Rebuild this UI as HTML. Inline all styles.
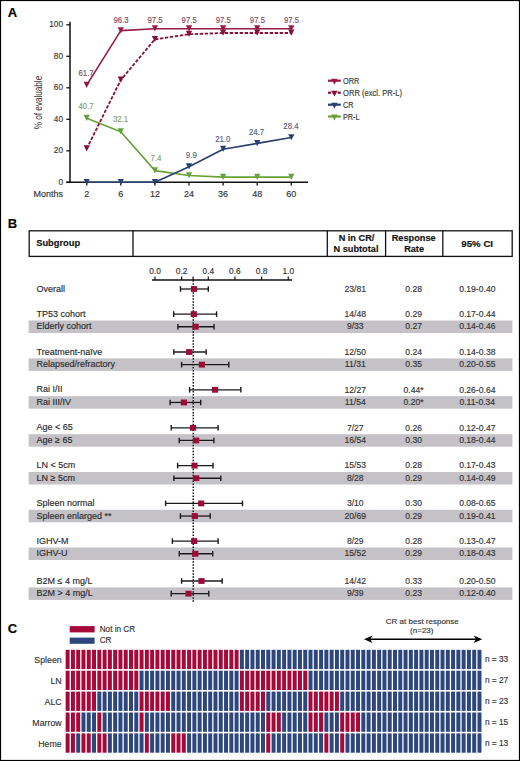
<!DOCTYPE html>
<html><head><meta charset="utf-8"><style>
html,body{margin:0;padding:0;background:#fff;}
body{width:520px;height:761px;overflow:hidden;font-family:"Liberation Sans", sans-serif;}
svg{display:block;}
</style></head><body>
<svg width="520" height="761" viewBox="0 0 520 761" font-family='"Liberation Sans", sans-serif'>
<rect x="0" y="0" width="520" height="761" fill="#fff"/>
<text x="7.8" y="16.6" font-size="13" text-anchor="start" font-weight="bold" fill="#000" stroke="#000" stroke-width="0.15" >A</text>
<line x1="70" y1="21.7" x2="70" y2="182.3" stroke="#111" stroke-width="1.5"/>
<line x1="66.3" y1="182.3" x2="308" y2="182.3" stroke="#111" stroke-width="1.5"/>
<line x1="66.3" y1="182.30" x2="70" y2="182.30" stroke="#111" stroke-width="1.3"/>
<text x="63" y="184.70000000000002" font-size="8.3" text-anchor="end" font-weight="normal" fill="#3a3a3a" stroke="#3a3a3a" stroke-width="0.15" >0</text>
<line x1="66.3" y1="150.80" x2="70" y2="150.80" stroke="#111" stroke-width="1.3"/>
<text x="63" y="153.20000000000002" font-size="8.3" text-anchor="end" font-weight="normal" fill="#3a3a3a" stroke="#3a3a3a" stroke-width="0.15" >20</text>
<line x1="66.3" y1="119.30" x2="70" y2="119.30" stroke="#111" stroke-width="1.3"/>
<text x="63" y="121.70000000000002" font-size="8.3" text-anchor="end" font-weight="normal" fill="#3a3a3a" stroke="#3a3a3a" stroke-width="0.15" >40</text>
<line x1="66.3" y1="87.80" x2="70" y2="87.80" stroke="#111" stroke-width="1.3"/>
<text x="63" y="90.20000000000002" font-size="8.3" text-anchor="end" font-weight="normal" fill="#3a3a3a" stroke="#3a3a3a" stroke-width="0.15" >60</text>
<line x1="66.3" y1="56.30" x2="70" y2="56.30" stroke="#111" stroke-width="1.3"/>
<text x="63" y="58.70000000000001" font-size="8.3" text-anchor="end" font-weight="normal" fill="#3a3a3a" stroke="#3a3a3a" stroke-width="0.15" >80</text>
<line x1="66.3" y1="24.80" x2="70" y2="24.80" stroke="#111" stroke-width="1.3"/>
<text x="63" y="27.20000000000001" font-size="8.3" text-anchor="end" font-weight="normal" fill="#3a3a3a" stroke="#3a3a3a" stroke-width="0.15" >100</text>
<line x1="86.7" y1="182.3" x2="86.7" y2="185.60000000000002" stroke="#111" stroke-width="1.3"/>
<line x1="120.8" y1="182.3" x2="120.8" y2="185.60000000000002" stroke="#111" stroke-width="1.3"/>
<line x1="154.9" y1="182.3" x2="154.9" y2="185.60000000000002" stroke="#111" stroke-width="1.3"/>
<line x1="189.0" y1="182.3" x2="189.0" y2="185.60000000000002" stroke="#111" stroke-width="1.3"/>
<line x1="223.1" y1="182.3" x2="223.1" y2="185.60000000000002" stroke="#111" stroke-width="1.3"/>
<line x1="257.2" y1="182.3" x2="257.2" y2="185.60000000000002" stroke="#111" stroke-width="1.3"/>
<line x1="291.3" y1="182.3" x2="291.3" y2="185.60000000000002" stroke="#111" stroke-width="1.3"/>
<text x="86.7" y="196.5" font-size="9" text-anchor="middle" font-weight="normal" fill="#333" stroke="#333" stroke-width="0.15" >2</text>
<text x="120.8" y="196.5" font-size="9" text-anchor="middle" font-weight="normal" fill="#333" stroke="#333" stroke-width="0.15" >6</text>
<text x="154.9" y="196.5" font-size="9" text-anchor="middle" font-weight="normal" fill="#333" stroke="#333" stroke-width="0.15" >12</text>
<text x="189.0" y="196.5" font-size="9" text-anchor="middle" font-weight="normal" fill="#333" stroke="#333" stroke-width="0.15" >24</text>
<text x="223.1" y="196.5" font-size="9" text-anchor="middle" font-weight="normal" fill="#333" stroke="#333" stroke-width="0.15" >36</text>
<text x="257.2" y="196.5" font-size="9" text-anchor="middle" font-weight="normal" fill="#333" stroke="#333" stroke-width="0.15" >48</text>
<text x="291.3" y="196.5" font-size="9" text-anchor="middle" font-weight="normal" fill="#333" stroke="#333" stroke-width="0.15" >60</text>
<text x="63.1" y="196.5" font-size="9" text-anchor="end" font-weight="normal" fill="#333" stroke="#333" stroke-width="0.15" >Months</text>
<text transform="translate(42.4,102.5) rotate(-90) scale(0.74,1)" x="0" y="0" font-size="11" text-anchor="middle" fill="#333">% of evaluable</text>
<polyline points="86.70,118.20 120.80,131.74 154.90,170.65 189.00,175.53 223.10,177.10 257.20,177.10 291.30,177.10" fill="none" stroke="#68a03c" stroke-width="1.6" stroke-linejoin="round"/>
<polyline points="86.70,182.30 120.80,182.30 154.90,182.30 189.00,166.71 223.10,149.23 257.20,143.40 291.30,137.57" fill="none" stroke="#283f70" stroke-width="1.6" stroke-linejoin="round"/>
<polyline points="86.70,148.75 120.80,79.93 154.90,39.29 189.00,34.25 223.10,32.99 257.20,32.99 291.30,32.99" fill="none" stroke="#841236" stroke-width="1.8" stroke-dasharray="3.4,1.6" stroke-linejoin="round"/>
<polyline points="86.70,85.12 120.80,30.63 154.90,28.74 189.00,28.74 223.10,28.74 257.20,28.74 291.30,28.74" fill="none" stroke="#981b42" stroke-width="1.6" stroke-linejoin="round"/>
<polygon points="83.60,114.80 89.80,114.80 86.70,121.00" fill="#68a03c"/>
<polygon points="117.70,128.34 123.90,128.34 120.80,134.54" fill="#68a03c"/>
<polygon points="151.80,167.25 158.00,167.25 154.90,173.45" fill="#68a03c"/>
<polygon points="185.90,172.13 192.10,172.13 189.00,178.33" fill="#68a03c"/>
<polygon points="220.00,173.70 226.20,173.70 223.10,179.90" fill="#68a03c"/>
<polygon points="254.10,173.70 260.30,173.70 257.20,179.90" fill="#68a03c"/>
<polygon points="288.20,173.70 294.40,173.70 291.30,179.90" fill="#68a03c"/>
<polygon points="83.60,178.90 89.80,178.90 86.70,185.10" fill="#283f70"/>
<polygon points="117.70,178.90 123.90,178.90 120.80,185.10" fill="#283f70"/>
<polygon points="151.80,178.90 158.00,178.90 154.90,185.10" fill="#283f70"/>
<polygon points="185.90,163.31 192.10,163.31 189.00,169.51" fill="#283f70"/>
<polygon points="220.00,145.83 226.20,145.83 223.10,152.03" fill="#283f70"/>
<polygon points="254.10,140.00 260.30,140.00 257.20,146.20" fill="#283f70"/>
<polygon points="288.20,134.17 294.40,134.17 291.30,140.37" fill="#283f70"/>
<polygon points="83.60,145.35 89.80,145.35 86.70,151.55" fill="#841236"/>
<polygon points="117.70,76.53 123.90,76.53 120.80,82.73" fill="#841236"/>
<polygon points="151.80,35.89 158.00,35.89 154.90,42.09" fill="#841236"/>
<polygon points="185.90,30.85 192.10,30.85 189.00,37.05" fill="#841236"/>
<polygon points="220.00,29.59 226.20,29.59 223.10,35.79" fill="#841236"/>
<polygon points="254.10,29.59 260.30,29.59 257.20,35.79" fill="#841236"/>
<polygon points="288.20,29.59 294.40,29.59 291.30,35.79" fill="#841236"/>
<polygon points="83.60,81.72 89.80,81.72 86.70,87.92" fill="#981b42"/>
<polygon points="117.70,27.23 123.90,27.23 120.80,33.43" fill="#981b42"/>
<polygon points="151.80,25.34 158.00,25.34 154.90,31.54" fill="#981b42"/>
<polygon points="185.90,25.34 192.10,25.34 189.00,31.54" fill="#981b42"/>
<polygon points="220.00,25.34 226.20,25.34 223.10,31.54" fill="#981b42"/>
<polygon points="254.10,25.34 260.30,25.34 257.20,31.54" fill="#981b42"/>
<polygon points="288.20,25.34 294.40,25.34 291.30,31.54" fill="#981b42"/>
<text x="86.1" y="75.9" font-size="9.2" text-anchor="middle" font-weight="normal" fill="#7c4a5e" stroke="#7c4a5e" stroke-width="0.15" textLength="15.2" lengthAdjust="spacingAndGlyphs">61.7</text>
<text x="121.0" y="22.6" font-size="9.2" text-anchor="middle" font-weight="normal" fill="#7c4a5e" stroke="#7c4a5e" stroke-width="0.15" textLength="15.2" lengthAdjust="spacingAndGlyphs">96.3</text>
<text x="155.1" y="22.6" font-size="9.2" text-anchor="middle" font-weight="normal" fill="#7c4a5e" stroke="#7c4a5e" stroke-width="0.15" textLength="15.2" lengthAdjust="spacingAndGlyphs">97.5</text>
<text x="189.2" y="22.6" font-size="9.2" text-anchor="middle" font-weight="normal" fill="#7c4a5e" stroke="#7c4a5e" stroke-width="0.15" textLength="15.2" lengthAdjust="spacingAndGlyphs">97.5</text>
<text x="223.29999999999998" y="22.6" font-size="9.2" text-anchor="middle" font-weight="normal" fill="#7c4a5e" stroke="#7c4a5e" stroke-width="0.15" textLength="15.2" lengthAdjust="spacingAndGlyphs">97.5</text>
<text x="257.4" y="22.6" font-size="9.2" text-anchor="middle" font-weight="normal" fill="#7c4a5e" stroke="#7c4a5e" stroke-width="0.15" textLength="15.2" lengthAdjust="spacingAndGlyphs">97.5</text>
<text x="291.5" y="22.6" font-size="9.2" text-anchor="middle" font-weight="normal" fill="#7c4a5e" stroke="#7c4a5e" stroke-width="0.15" textLength="15.2" lengthAdjust="spacingAndGlyphs">97.5</text>
<text x="86.1" y="109.4" font-size="9.2" text-anchor="middle" font-weight="normal" fill="#849d70" stroke="#849d70" stroke-width="0.15" textLength="15.2" lengthAdjust="spacingAndGlyphs">40.7</text>
<text x="120.5" y="122.3" font-size="9.2" text-anchor="middle" font-weight="normal" fill="#849d70" stroke="#849d70" stroke-width="0.15" textLength="15.2" lengthAdjust="spacingAndGlyphs">32.1</text>
<text x="156.0" y="161.4" font-size="9.2" text-anchor="middle" font-weight="normal" fill="#849d70" stroke="#849d70" stroke-width="0.15" textLength="11.0" lengthAdjust="spacingAndGlyphs">7.4</text>
<text x="191.3" y="157.7" font-size="9.2" text-anchor="middle" font-weight="normal" fill="#555f7a" stroke="#555f7a" stroke-width="0.15" textLength="11.0" lengthAdjust="spacingAndGlyphs">9.9</text>
<text x="222.8" y="142.1" font-size="9.2" text-anchor="middle" font-weight="normal" fill="#555f7a" stroke="#555f7a" stroke-width="0.15" textLength="15.2" lengthAdjust="spacingAndGlyphs">21.0</text>
<text x="256.6" y="135.0" font-size="9.2" text-anchor="middle" font-weight="normal" fill="#555f7a" stroke="#555f7a" stroke-width="0.15" textLength="15.2" lengthAdjust="spacingAndGlyphs">24.7</text>
<text x="290.9" y="128.8" font-size="9.2" text-anchor="middle" font-weight="normal" fill="#555f7a" stroke="#555f7a" stroke-width="0.15" textLength="15.2" lengthAdjust="spacingAndGlyphs">28.4</text>
<line x1="328" y1="80.7" x2="340.8" y2="80.7" stroke="#981b42" stroke-width="2.2"/>
<polygon points="331.20,78.80 337.60,78.80 334.40,84.60" fill="#981b42"/>
<text x="343.0" y="83.9" font-size="8.3" text-anchor="start" font-weight="normal" fill="#383838" stroke="#383838" stroke-width="0.15" textLength="16.3" lengthAdjust="spacingAndGlyphs">ORR</text>
<line x1="328" y1="92.7" x2="331.2" y2="92.7" stroke="#841236" stroke-width="2.2"/>
<line x1="337.6" y1="92.7" x2="340.8" y2="92.7" stroke="#841236" stroke-width="2.2"/>
<polygon points="331.20,90.80 337.60,90.80 334.40,96.60" fill="#841236"/>
<text x="343.0" y="95.9" font-size="8.3" text-anchor="start" font-weight="normal" fill="#383838" stroke="#383838" stroke-width="0.15" textLength="59.0" lengthAdjust="spacingAndGlyphs">ORR (excl. PR-L)</text>
<line x1="328" y1="104.7" x2="340.8" y2="104.7" stroke="#283f70" stroke-width="2.2"/>
<polygon points="331.20,102.80 337.60,102.80 334.40,108.60" fill="#283f70"/>
<text x="343.0" y="107.9" font-size="8.3" text-anchor="start" font-weight="normal" fill="#383838" stroke="#383838" stroke-width="0.15" textLength="10.4" lengthAdjust="spacingAndGlyphs">CR</text>
<line x1="328" y1="116.5" x2="340.8" y2="116.5" stroke="#68a03c" stroke-width="2.2"/>
<polygon points="331.20,114.60 337.60,114.60 334.40,120.40" fill="#68a03c"/>
<text x="343.0" y="119.7" font-size="8.3" text-anchor="start" font-weight="normal" fill="#383838" stroke="#383838" stroke-width="0.15" textLength="16.6" lengthAdjust="spacingAndGlyphs">PR-L</text>
<text x="7.8" y="227.6" font-size="13" text-anchor="start" font-weight="bold" fill="#000" stroke="#000" stroke-width="0.15" >B</text>
<rect x="28.6" y="320.50" width="483.8" height="12.5" fill="#c4c1c7"/>
<rect x="28.6" y="358.40" width="483.8" height="12.5" fill="#c4c1c7"/>
<rect x="28.6" y="396.20" width="483.8" height="12.5" fill="#c4c1c7"/>
<rect x="28.6" y="434.20" width="483.8" height="12.5" fill="#c4c1c7"/>
<rect x="28.6" y="472.00" width="483.8" height="12.5" fill="#c4c1c7"/>
<rect x="28.6" y="509.80" width="483.8" height="12.5" fill="#c4c1c7"/>
<rect x="28.6" y="547.50" width="483.8" height="12.5" fill="#c4c1c7"/>
<rect x="28.6" y="587.40" width="483.8" height="12.5" fill="#c4c1c7"/>
<rect x="29.2" y="230.8" width="483" height="25.6" fill="none" stroke="#111" stroke-width="1.3"/>
<line x1="133.0" y1="230.8" x2="133.0" y2="256.4" stroke="#111" stroke-width="1.3"/>
<line x1="327.3" y1="230.8" x2="327.3" y2="256.4" stroke="#111" stroke-width="1.3"/>
<line x1="385.6" y1="230.8" x2="385.6" y2="256.4" stroke="#111" stroke-width="1.3"/>
<line x1="442.8" y1="230.8" x2="442.8" y2="256.4" stroke="#111" stroke-width="1.3"/>
<text x="36.2" y="246.2" font-size="9.3" text-anchor="start" font-weight="bold" fill="#111" stroke="#111" stroke-width="0.15" >Subgroup</text>
<text x="356.5" y="241.2" font-size="9.2" text-anchor="middle" font-weight="bold" fill="#111" stroke="#111" stroke-width="0.15" >N in CR/</text>
<text x="356.0" y="251.9" font-size="9.2" text-anchor="middle" font-weight="bold" fill="#111" stroke="#111" stroke-width="0.15" >N subtotal</text>
<text x="413.7" y="240.9" font-size="9.2" text-anchor="middle" font-weight="bold" fill="#111" stroke="#111" stroke-width="0.15" >Response</text>
<text x="414.1" y="251.9" font-size="9.2" text-anchor="middle" font-weight="bold" fill="#111" stroke="#111" stroke-width="0.15" >Rate</text>
<text x="477.2" y="246.9" font-size="9.7" text-anchor="middle" font-weight="bold" fill="#111" stroke="#111" stroke-width="0.15" >95% CI</text>
<line x1="152" y1="280" x2="292" y2="280" stroke="#111" stroke-width="1.4"/>
<line x1="155.00" y1="276.6" x2="155.00" y2="280" stroke="#111" stroke-width="1.2"/>
<text x="155.0" y="274.0" font-size="8.4" text-anchor="middle" font-weight="normal" fill="#333" stroke="#333" stroke-width="0.15" >0.0</text>
<line x1="181.65" y1="276.6" x2="181.65" y2="280" stroke="#111" stroke-width="1.2"/>
<text x="181.65" y="274.0" font-size="8.4" text-anchor="middle" font-weight="normal" fill="#333" stroke="#333" stroke-width="0.15" >0.2</text>
<line x1="208.30" y1="276.6" x2="208.30" y2="280" stroke="#111" stroke-width="1.2"/>
<text x="208.3" y="274.0" font-size="8.4" text-anchor="middle" font-weight="normal" fill="#333" stroke="#333" stroke-width="0.15" >0.4</text>
<line x1="234.95" y1="276.6" x2="234.95" y2="280" stroke="#111" stroke-width="1.2"/>
<text x="234.95" y="274.0" font-size="8.4" text-anchor="middle" font-weight="normal" fill="#333" stroke="#333" stroke-width="0.15" >0.6</text>
<line x1="261.60" y1="276.6" x2="261.60" y2="280" stroke="#111" stroke-width="1.2"/>
<text x="261.6" y="274.0" font-size="8.4" text-anchor="middle" font-weight="normal" fill="#333" stroke="#333" stroke-width="0.15" >0.8</text>
<line x1="288.25" y1="276.6" x2="288.25" y2="280" stroke="#111" stroke-width="1.2"/>
<text x="288.25" y="274.0" font-size="8.4" text-anchor="middle" font-weight="normal" fill="#333" stroke="#333" stroke-width="0.15" >1.0</text>
<line x1="193.1" y1="276.6" x2="193.1" y2="280" stroke="#111" stroke-width="1.2"/>
<line x1="193.25" y1="280.36" x2="193.25" y2="602" stroke="#000" stroke-width="1.4" stroke-dasharray="1.5,1.489"/>
<line x1="180.5" y1="289.00" x2="208.3" y2="289.00" stroke="#1a1a1a" stroke-width="1.3"/>
<line x1="180.5" y1="286.20" x2="180.5" y2="291.80" stroke="#1a1a1a" stroke-width="1.4"/>
<line x1="208.3" y1="286.20" x2="208.3" y2="291.80" stroke="#1a1a1a" stroke-width="1.4"/>
<rect x="190.90" y="286.10" width="6.2" height="5.8" fill="#9a0b35"/>
<text x="36.5" y="291.6" font-size="9" text-anchor="start" font-weight="normal" fill="#2a2a2a" stroke="#2a2a2a" stroke-width="0.15" >Overall</text>
<text x="355.3" y="291.7" font-size="8.6" text-anchor="middle" font-weight="normal" fill="#333" stroke="#333" stroke-width="0.15" >23/81</text>
<text x="413.6" y="291.7" font-size="8.6" text-anchor="middle" font-weight="normal" fill="#333" stroke="#333" stroke-width="0.15" >0.28</text>
<text x="477.3" y="291.7" font-size="8.6" text-anchor="middle" font-weight="normal" fill="#333" stroke="#333" stroke-width="0.15" >0.19-0.40</text>
<line x1="173.7" y1="314.10" x2="216.6" y2="314.10" stroke="#1a1a1a" stroke-width="1.3"/>
<line x1="173.7" y1="311.30" x2="173.7" y2="316.90" stroke="#1a1a1a" stroke-width="1.4"/>
<line x1="216.6" y1="311.30" x2="216.6" y2="316.90" stroke="#1a1a1a" stroke-width="1.4"/>
<rect x="190.70" y="311.20" width="6.2" height="5.8" fill="#9a0b35"/>
<text x="36.5" y="316.70000000000005" font-size="9" text-anchor="start" font-weight="normal" fill="#2a2a2a" stroke="#2a2a2a" stroke-width="0.15" >TP53 cohort</text>
<text x="355.3" y="316.8" font-size="8.6" text-anchor="middle" font-weight="normal" fill="#333" stroke="#333" stroke-width="0.15" >14/48</text>
<text x="413.6" y="316.8" font-size="8.6" text-anchor="middle" font-weight="normal" fill="#333" stroke="#333" stroke-width="0.15" >0.29</text>
<text x="477.3" y="316.8" font-size="8.6" text-anchor="middle" font-weight="normal" fill="#333" stroke="#333" stroke-width="0.15" >0.17-0.44</text>
<line x1="177.9" y1="326.75" x2="214.0" y2="326.75" stroke="#1a1a1a" stroke-width="1.3"/>
<line x1="177.9" y1="323.95" x2="177.9" y2="329.55" stroke="#1a1a1a" stroke-width="1.4"/>
<line x1="214.0" y1="323.95" x2="214.0" y2="329.55" stroke="#1a1a1a" stroke-width="1.4"/>
<rect x="192.50" y="323.85" width="6.2" height="5.8" fill="#9a0b35"/>
<text x="36.5" y="329.35" font-size="9" text-anchor="start" font-weight="normal" fill="#2a2a2a" stroke="#2a2a2a" stroke-width="0.15" >Elderly cohort</text>
<text x="355.3" y="329.45" font-size="8.6" text-anchor="middle" font-weight="normal" fill="#333" stroke="#333" stroke-width="0.15" >9/33</text>
<text x="413.6" y="329.45" font-size="8.6" text-anchor="middle" font-weight="normal" fill="#333" stroke="#333" stroke-width="0.15" >0.27</text>
<text x="477.3" y="329.45" font-size="8.6" text-anchor="middle" font-weight="normal" fill="#333" stroke="#333" stroke-width="0.15" >0.14-0.46</text>
<line x1="173.8" y1="352.00" x2="206.2" y2="352.00" stroke="#1a1a1a" stroke-width="1.3"/>
<line x1="173.8" y1="349.20" x2="173.8" y2="354.80" stroke="#1a1a1a" stroke-width="1.4"/>
<line x1="206.2" y1="349.20" x2="206.2" y2="354.80" stroke="#1a1a1a" stroke-width="1.4"/>
<rect x="186.10" y="349.10" width="6.2" height="5.8" fill="#9a0b35"/>
<text x="36.5" y="354.6" font-size="9" text-anchor="start" font-weight="normal" fill="#2a2a2a" stroke="#2a2a2a" stroke-width="0.15" >Treatment-naïve</text>
<text x="355.3" y="354.7" font-size="8.6" text-anchor="middle" font-weight="normal" fill="#333" stroke="#333" stroke-width="0.15" >12/50</text>
<text x="413.6" y="354.7" font-size="8.6" text-anchor="middle" font-weight="normal" fill="#333" stroke="#333" stroke-width="0.15" >0.24</text>
<text x="477.3" y="354.7" font-size="8.6" text-anchor="middle" font-weight="normal" fill="#333" stroke="#333" stroke-width="0.15" >0.14-0.38</text>
<line x1="181.6" y1="364.65" x2="228.8" y2="364.65" stroke="#1a1a1a" stroke-width="1.3"/>
<line x1="181.6" y1="361.85" x2="181.6" y2="367.45" stroke="#1a1a1a" stroke-width="1.4"/>
<line x1="228.8" y1="361.85" x2="228.8" y2="367.45" stroke="#1a1a1a" stroke-width="1.4"/>
<rect x="198.80" y="361.75" width="6.2" height="5.8" fill="#9a0b35"/>
<text x="36.5" y="367.25" font-size="9" text-anchor="start" font-weight="normal" fill="#2a2a2a" stroke="#2a2a2a" stroke-width="0.15" >Relapsed/refractory</text>
<text x="355.3" y="367.34999999999997" font-size="8.6" text-anchor="middle" font-weight="normal" fill="#333" stroke="#333" stroke-width="0.15" >11/31</text>
<text x="413.6" y="367.34999999999997" font-size="8.6" text-anchor="middle" font-weight="normal" fill="#333" stroke="#333" stroke-width="0.15" >0.35</text>
<text x="477.3" y="367.34999999999997" font-size="8.6" text-anchor="middle" font-weight="normal" fill="#333" stroke="#333" stroke-width="0.15" >0.20-0.55</text>
<line x1="189.6" y1="389.80" x2="240.8" y2="389.80" stroke="#1a1a1a" stroke-width="1.3"/>
<line x1="189.6" y1="387.00" x2="189.6" y2="392.60" stroke="#1a1a1a" stroke-width="1.4"/>
<line x1="240.8" y1="387.00" x2="240.8" y2="392.60" stroke="#1a1a1a" stroke-width="1.4"/>
<rect x="211.90" y="386.90" width="6.2" height="5.8" fill="#9a0b35"/>
<text x="36.5" y="392.40000000000003" font-size="9" text-anchor="start" font-weight="normal" fill="#2a2a2a" stroke="#2a2a2a" stroke-width="0.15" >Rai I/II</text>
<text x="355.3" y="392.5" font-size="8.6" text-anchor="middle" font-weight="normal" fill="#333" stroke="#333" stroke-width="0.15" >12/27</text>
<text x="413.6" y="392.5" font-size="8.6" text-anchor="middle" font-weight="normal" fill="#333" stroke="#333" stroke-width="0.15" >0.44*</text>
<text x="477.3" y="392.5" font-size="8.6" text-anchor="middle" font-weight="normal" fill="#333" stroke="#333" stroke-width="0.15" >0.26-0.64</text>
<line x1="170.1" y1="402.45" x2="200.7" y2="402.45" stroke="#1a1a1a" stroke-width="1.3"/>
<line x1="170.1" y1="399.65" x2="170.1" y2="405.25" stroke="#1a1a1a" stroke-width="1.4"/>
<line x1="200.7" y1="399.65" x2="200.7" y2="405.25" stroke="#1a1a1a" stroke-width="1.4"/>
<rect x="180.80" y="399.55" width="6.2" height="5.8" fill="#9a0b35"/>
<text x="36.5" y="405.05" font-size="9" text-anchor="start" font-weight="normal" fill="#2a2a2a" stroke="#2a2a2a" stroke-width="0.15" >Rai III/IV</text>
<text x="355.3" y="405.15" font-size="8.6" text-anchor="middle" font-weight="normal" fill="#333" stroke="#333" stroke-width="0.15" >11/54</text>
<text x="413.6" y="405.15" font-size="8.6" text-anchor="middle" font-weight="normal" fill="#333" stroke="#333" stroke-width="0.15" >0.20*</text>
<text x="477.3" y="405.15" font-size="8.6" text-anchor="middle" font-weight="normal" fill="#333" stroke="#333" stroke-width="0.15" >0.11-0.34</text>
<line x1="171.2" y1="427.80" x2="218.1" y2="427.80" stroke="#1a1a1a" stroke-width="1.3"/>
<line x1="171.2" y1="425.00" x2="171.2" y2="430.60" stroke="#1a1a1a" stroke-width="1.4"/>
<line x1="218.1" y1="425.00" x2="218.1" y2="430.60" stroke="#1a1a1a" stroke-width="1.4"/>
<rect x="189.90" y="424.90" width="6.2" height="5.8" fill="#9a0b35"/>
<text x="36.5" y="430.40000000000003" font-size="9" text-anchor="start" font-weight="normal" fill="#2a2a2a" stroke="#2a2a2a" stroke-width="0.15" >Age &lt; 65</text>
<text x="355.3" y="430.5" font-size="8.6" text-anchor="middle" font-weight="normal" fill="#333" stroke="#333" stroke-width="0.15" >7/27</text>
<text x="413.6" y="430.5" font-size="8.6" text-anchor="middle" font-weight="normal" fill="#333" stroke="#333" stroke-width="0.15" >0.26</text>
<text x="477.3" y="430.5" font-size="8.6" text-anchor="middle" font-weight="normal" fill="#333" stroke="#333" stroke-width="0.15" >0.12-0.47</text>
<line x1="179.2" y1="440.45" x2="213.9" y2="440.45" stroke="#1a1a1a" stroke-width="1.3"/>
<line x1="179.2" y1="437.65" x2="179.2" y2="443.25" stroke="#1a1a1a" stroke-width="1.4"/>
<line x1="213.9" y1="437.65" x2="213.9" y2="443.25" stroke="#1a1a1a" stroke-width="1.4"/>
<rect x="193.10" y="437.55" width="6.2" height="5.8" fill="#9a0b35"/>
<text x="36.5" y="443.05" font-size="9" text-anchor="start" font-weight="normal" fill="#2a2a2a" stroke="#2a2a2a" stroke-width="0.15" >Age ≥ 65</text>
<text x="355.3" y="443.15" font-size="8.6" text-anchor="middle" font-weight="normal" fill="#333" stroke="#333" stroke-width="0.15" >16/54</text>
<text x="413.6" y="443.15" font-size="8.6" text-anchor="middle" font-weight="normal" fill="#333" stroke="#333" stroke-width="0.15" >0.30</text>
<text x="477.3" y="443.15" font-size="8.6" text-anchor="middle" font-weight="normal" fill="#333" stroke="#333" stroke-width="0.15" >0.18-0.44</text>
<line x1="177.6" y1="465.60" x2="213.0" y2="465.60" stroke="#1a1a1a" stroke-width="1.3"/>
<line x1="177.6" y1="462.80" x2="177.6" y2="468.40" stroke="#1a1a1a" stroke-width="1.4"/>
<line x1="213.0" y1="462.80" x2="213.0" y2="468.40" stroke="#1a1a1a" stroke-width="1.4"/>
<rect x="191.40" y="462.70" width="6.2" height="5.8" fill="#9a0b35"/>
<text x="36.5" y="468.20000000000005" font-size="9" text-anchor="start" font-weight="normal" fill="#2a2a2a" stroke="#2a2a2a" stroke-width="0.15" >LN &lt; 5cm</text>
<text x="355.3" y="468.3" font-size="8.6" text-anchor="middle" font-weight="normal" fill="#333" stroke="#333" stroke-width="0.15" >15/53</text>
<text x="413.6" y="468.3" font-size="8.6" text-anchor="middle" font-weight="normal" fill="#333" stroke="#333" stroke-width="0.15" >0.28</text>
<text x="477.3" y="468.3" font-size="8.6" text-anchor="middle" font-weight="normal" fill="#333" stroke="#333" stroke-width="0.15" >0.17-0.43</text>
<line x1="173.9" y1="478.25" x2="220.8" y2="478.25" stroke="#1a1a1a" stroke-width="1.3"/>
<line x1="173.9" y1="475.45" x2="173.9" y2="481.05" stroke="#1a1a1a" stroke-width="1.4"/>
<line x1="220.8" y1="475.45" x2="220.8" y2="481.05" stroke="#1a1a1a" stroke-width="1.4"/>
<rect x="193.10" y="475.35" width="6.2" height="5.8" fill="#9a0b35"/>
<text x="36.5" y="480.85" font-size="9" text-anchor="start" font-weight="normal" fill="#2a2a2a" stroke="#2a2a2a" stroke-width="0.15" >LN ≥ 5cm</text>
<text x="355.3" y="480.95" font-size="8.6" text-anchor="middle" font-weight="normal" fill="#333" stroke="#333" stroke-width="0.15" >8/28</text>
<text x="413.6" y="480.95" font-size="8.6" text-anchor="middle" font-weight="normal" fill="#333" stroke="#333" stroke-width="0.15" >0.29</text>
<text x="477.3" y="480.95" font-size="8.6" text-anchor="middle" font-weight="normal" fill="#333" stroke="#333" stroke-width="0.15" >0.14-0.49</text>
<line x1="165.6" y1="503.40" x2="242.5" y2="503.40" stroke="#1a1a1a" stroke-width="1.3"/>
<line x1="165.6" y1="500.60" x2="165.6" y2="506.20" stroke="#1a1a1a" stroke-width="1.4"/>
<line x1="242.5" y1="500.60" x2="242.5" y2="506.20" stroke="#1a1a1a" stroke-width="1.4"/>
<rect x="198.10" y="500.50" width="6.2" height="5.8" fill="#9a0b35"/>
<text x="36.5" y="506.0" font-size="9" text-anchor="start" font-weight="normal" fill="#2a2a2a" stroke="#2a2a2a" stroke-width="0.15" >Spleen normal</text>
<text x="355.3" y="506.09999999999997" font-size="8.6" text-anchor="middle" font-weight="normal" fill="#333" stroke="#333" stroke-width="0.15" >3/10</text>
<text x="413.6" y="506.09999999999997" font-size="8.6" text-anchor="middle" font-weight="normal" fill="#333" stroke="#333" stroke-width="0.15" >0.30</text>
<text x="477.3" y="506.09999999999997" font-size="8.6" text-anchor="middle" font-weight="normal" fill="#333" stroke="#333" stroke-width="0.15" >0.08-0.65</text>
<line x1="180.4" y1="516.05" x2="210.2" y2="516.05" stroke="#1a1a1a" stroke-width="1.3"/>
<line x1="180.4" y1="513.25" x2="180.4" y2="518.85" stroke="#1a1a1a" stroke-width="1.4"/>
<line x1="210.2" y1="513.25" x2="210.2" y2="518.85" stroke="#1a1a1a" stroke-width="1.4"/>
<rect x="191.70" y="513.15" width="6.2" height="5.8" fill="#9a0b35"/>
<text x="36.5" y="518.65" font-size="9" text-anchor="start" font-weight="normal" fill="#2a2a2a" stroke="#2a2a2a" stroke-width="0.15" >Spleen enlarged **</text>
<text x="355.3" y="518.75" font-size="8.6" text-anchor="middle" font-weight="normal" fill="#333" stroke="#333" stroke-width="0.15" >20/69</text>
<text x="413.6" y="518.75" font-size="8.6" text-anchor="middle" font-weight="normal" fill="#333" stroke="#333" stroke-width="0.15" >0.29</text>
<text x="477.3" y="518.75" font-size="8.6" text-anchor="middle" font-weight="normal" fill="#333" stroke="#333" stroke-width="0.15" >0.19-0.41</text>
<line x1="172.4" y1="541.10" x2="218.1" y2="541.10" stroke="#1a1a1a" stroke-width="1.3"/>
<line x1="172.4" y1="538.30" x2="172.4" y2="543.90" stroke="#1a1a1a" stroke-width="1.4"/>
<line x1="218.1" y1="538.30" x2="218.1" y2="543.90" stroke="#1a1a1a" stroke-width="1.4"/>
<rect x="191.10" y="538.20" width="6.2" height="5.8" fill="#9a0b35"/>
<text x="36.5" y="543.7" font-size="9" text-anchor="start" font-weight="normal" fill="#2a2a2a" stroke="#2a2a2a" stroke-width="0.15" >IGHV-M</text>
<text x="355.3" y="543.8000000000001" font-size="8.6" text-anchor="middle" font-weight="normal" fill="#333" stroke="#333" stroke-width="0.15" >8/29</text>
<text x="413.6" y="543.8000000000001" font-size="8.6" text-anchor="middle" font-weight="normal" fill="#333" stroke="#333" stroke-width="0.15" >0.28</text>
<text x="477.3" y="543.8000000000001" font-size="8.6" text-anchor="middle" font-weight="normal" fill="#333" stroke="#333" stroke-width="0.15" >0.13-0.47</text>
<line x1="179.3" y1="553.75" x2="212.7" y2="553.75" stroke="#1a1a1a" stroke-width="1.3"/>
<line x1="179.3" y1="550.95" x2="179.3" y2="556.55" stroke="#1a1a1a" stroke-width="1.4"/>
<line x1="212.7" y1="550.95" x2="212.7" y2="556.55" stroke="#1a1a1a" stroke-width="1.4"/>
<rect x="192.20" y="550.85" width="6.2" height="5.8" fill="#9a0b35"/>
<text x="36.5" y="556.35" font-size="9" text-anchor="start" font-weight="normal" fill="#2a2a2a" stroke="#2a2a2a" stroke-width="0.15" >IGHV-U</text>
<text x="355.3" y="556.45" font-size="8.6" text-anchor="middle" font-weight="normal" fill="#333" stroke="#333" stroke-width="0.15" >15/52</text>
<text x="413.6" y="556.45" font-size="8.6" text-anchor="middle" font-weight="normal" fill="#333" stroke="#333" stroke-width="0.15" >0.29</text>
<text x="477.3" y="556.45" font-size="8.6" text-anchor="middle" font-weight="normal" fill="#333" stroke="#333" stroke-width="0.15" >0.18-0.43</text>
<line x1="181.6" y1="581.00" x2="222.2" y2="581.00" stroke="#1a1a1a" stroke-width="1.3"/>
<line x1="181.6" y1="578.20" x2="181.6" y2="583.80" stroke="#1a1a1a" stroke-width="1.4"/>
<line x1="222.2" y1="578.20" x2="222.2" y2="583.80" stroke="#1a1a1a" stroke-width="1.4"/>
<rect x="198.40" y="578.10" width="6.2" height="5.8" fill="#9a0b35"/>
<text x="36.5" y="583.6" font-size="9" text-anchor="start" font-weight="normal" fill="#2a2a2a" stroke="#2a2a2a" stroke-width="0.15" >B2M ≤ 4 mg/L</text>
<text x="355.3" y="583.7" font-size="8.6" text-anchor="middle" font-weight="normal" fill="#333" stroke="#333" stroke-width="0.15" >14/42</text>
<text x="413.6" y="583.7" font-size="8.6" text-anchor="middle" font-weight="normal" fill="#333" stroke="#333" stroke-width="0.15" >0.33</text>
<text x="477.3" y="583.7" font-size="8.6" text-anchor="middle" font-weight="normal" fill="#333" stroke="#333" stroke-width="0.15" >0.20-0.50</text>
<line x1="171.2" y1="593.65" x2="208.8" y2="593.65" stroke="#1a1a1a" stroke-width="1.3"/>
<line x1="171.2" y1="590.85" x2="171.2" y2="596.45" stroke="#1a1a1a" stroke-width="1.4"/>
<line x1="208.8" y1="590.85" x2="208.8" y2="596.45" stroke="#1a1a1a" stroke-width="1.4"/>
<rect x="185.40" y="590.75" width="6.2" height="5.8" fill="#9a0b35"/>
<text x="36.5" y="596.25" font-size="9" text-anchor="start" font-weight="normal" fill="#2a2a2a" stroke="#2a2a2a" stroke-width="0.15" >B2M &gt; 4 mg/L</text>
<text x="355.3" y="596.35" font-size="8.6" text-anchor="middle" font-weight="normal" fill="#333" stroke="#333" stroke-width="0.15" >9/39</text>
<text x="413.6" y="596.35" font-size="8.6" text-anchor="middle" font-weight="normal" fill="#333" stroke="#333" stroke-width="0.15" >0.23</text>
<text x="477.3" y="596.35" font-size="8.6" text-anchor="middle" font-weight="normal" fill="#333" stroke="#333" stroke-width="0.15" >0.12-0.40</text>
<text x="7.8" y="633.0" font-size="13" text-anchor="start" font-weight="bold" fill="#000" stroke="#000" stroke-width="0.15" >C</text>
<rect x="69.7" y="626.1" width="24.9" height="6.3" fill="#a5093a"/>
<rect x="69.7" y="637.6" width="24.9" height="6.2" fill="#2d477c"/>
<text x="99.7" y="631.7" font-size="8.2" text-anchor="start" font-weight="normal" fill="#333" stroke="#333" stroke-width="0.15" >Not in CR</text>
<text x="99.7" y="643.3" font-size="8.2" text-anchor="start" font-weight="normal" fill="#333" stroke="#333" stroke-width="0.15" >CR</text>
<text x="422.3" y="623.5" font-size="8.0" text-anchor="middle" font-weight="normal" fill="#333" stroke="#333" stroke-width="0.15" >CR at best response</text>
<text x="421.8" y="632.8" font-size="8.0" text-anchor="middle" font-weight="normal" fill="#333" stroke="#333" stroke-width="0.15" >(n=23)</text>
<line x1="368" y1="639.3" x2="478" y2="639.3" stroke="#000" stroke-width="1.5"/>
<path d="M364,639.3 L372.5,635.6 L370.3,639.3 L372.5,643 Z" fill="#000"/>
<path d="M482.2,639.3 L473.7,635.6 L475.9,639.3 L473.7,643 Z" fill="#000"/>
<rect x="65.65" y="649.80" width="3.98" height="19.3" fill="#a5093a"/>
<rect x="70.93" y="649.80" width="3.98" height="19.3" fill="#a5093a"/>
<rect x="76.21" y="649.80" width="3.98" height="19.3" fill="#a5093a"/>
<rect x="81.49" y="649.80" width="3.98" height="19.3" fill="#a5093a"/>
<rect x="86.77" y="649.80" width="3.98" height="19.3" fill="#a5093a"/>
<rect x="92.05" y="649.80" width="3.98" height="19.3" fill="#a5093a"/>
<rect x="97.33" y="649.80" width="3.98" height="19.3" fill="#a5093a"/>
<rect x="102.61" y="649.80" width="3.98" height="19.3" fill="#a5093a"/>
<rect x="107.89" y="649.80" width="3.98" height="19.3" fill="#a5093a"/>
<rect x="113.17" y="649.80" width="3.98" height="19.3" fill="#a5093a"/>
<rect x="118.45" y="649.80" width="3.98" height="19.3" fill="#a5093a"/>
<rect x="123.73" y="649.80" width="3.98" height="19.3" fill="#a5093a"/>
<rect x="129.01" y="649.80" width="3.98" height="19.3" fill="#a5093a"/>
<rect x="134.29" y="649.80" width="3.98" height="19.3" fill="#a5093a"/>
<rect x="139.57" y="649.80" width="3.98" height="19.3" fill="#a5093a"/>
<rect x="144.85" y="649.80" width="3.98" height="19.3" fill="#a5093a"/>
<rect x="150.13" y="649.80" width="3.98" height="19.3" fill="#a5093a"/>
<rect x="155.41" y="649.80" width="3.98" height="19.3" fill="#a5093a"/>
<rect x="160.69" y="649.80" width="3.98" height="19.3" fill="#a5093a"/>
<rect x="165.97" y="649.80" width="3.98" height="19.3" fill="#a5093a"/>
<rect x="171.25" y="649.80" width="3.98" height="19.3" fill="#a5093a"/>
<rect x="176.53" y="649.80" width="3.98" height="19.3" fill="#a5093a"/>
<rect x="181.81" y="649.80" width="3.98" height="19.3" fill="#a5093a"/>
<rect x="187.09" y="649.80" width="3.98" height="19.3" fill="#a5093a"/>
<rect x="192.37" y="649.80" width="3.98" height="19.3" fill="#a5093a"/>
<rect x="197.65" y="649.80" width="3.98" height="19.3" fill="#a5093a"/>
<rect x="202.93" y="649.80" width="3.98" height="19.3" fill="#a5093a"/>
<rect x="208.21" y="649.80" width="3.98" height="19.3" fill="#a5093a"/>
<rect x="213.49" y="649.80" width="3.98" height="19.3" fill="#a5093a"/>
<rect x="218.77" y="649.80" width="3.98" height="19.3" fill="#a5093a"/>
<rect x="224.05" y="649.80" width="3.98" height="19.3" fill="#a5093a"/>
<rect x="229.33" y="649.80" width="3.98" height="19.3" fill="#a5093a"/>
<rect x="234.61" y="649.80" width="3.98" height="19.3" fill="#a5093a"/>
<rect x="239.89" y="649.80" width="3.98" height="19.3" fill="#2d477c"/>
<rect x="245.17" y="649.80" width="3.98" height="19.3" fill="#2d477c"/>
<rect x="250.45" y="649.80" width="3.98" height="19.3" fill="#2d477c"/>
<rect x="255.73" y="649.80" width="3.98" height="19.3" fill="#2d477c"/>
<rect x="261.01" y="649.80" width="3.98" height="19.3" fill="#2d477c"/>
<rect x="266.29" y="649.80" width="3.98" height="19.3" fill="#2d477c"/>
<rect x="271.57" y="649.80" width="3.98" height="19.3" fill="#2d477c"/>
<rect x="276.85" y="649.80" width="3.98" height="19.3" fill="#2d477c"/>
<rect x="282.13" y="649.80" width="3.98" height="19.3" fill="#2d477c"/>
<rect x="287.41" y="649.80" width="3.98" height="19.3" fill="#2d477c"/>
<rect x="292.69" y="649.80" width="3.98" height="19.3" fill="#2d477c"/>
<rect x="297.97" y="649.80" width="3.98" height="19.3" fill="#2d477c"/>
<rect x="303.25" y="649.80" width="3.98" height="19.3" fill="#2d477c"/>
<rect x="308.53" y="649.80" width="3.98" height="19.3" fill="#2d477c"/>
<rect x="313.81" y="649.80" width="3.98" height="19.3" fill="#2d477c"/>
<rect x="319.09" y="649.80" width="3.98" height="19.3" fill="#2d477c"/>
<rect x="324.37" y="649.80" width="3.98" height="19.3" fill="#2d477c"/>
<rect x="329.65" y="649.80" width="3.98" height="19.3" fill="#2d477c"/>
<rect x="334.93" y="649.80" width="3.98" height="19.3" fill="#2d477c"/>
<rect x="340.21" y="649.80" width="3.98" height="19.3" fill="#2d477c"/>
<rect x="345.49" y="649.80" width="3.98" height="19.3" fill="#2d477c"/>
<rect x="350.77" y="649.80" width="3.98" height="19.3" fill="#2d477c"/>
<rect x="356.05" y="649.80" width="3.98" height="19.3" fill="#2d477c"/>
<rect x="361.33" y="649.80" width="3.98" height="19.3" fill="#2d477c"/>
<rect x="366.61" y="649.80" width="3.98" height="19.3" fill="#2d477c"/>
<rect x="371.89" y="649.80" width="3.98" height="19.3" fill="#2d477c"/>
<rect x="377.17" y="649.80" width="3.98" height="19.3" fill="#2d477c"/>
<rect x="382.45" y="649.80" width="3.98" height="19.3" fill="#2d477c"/>
<rect x="387.73" y="649.80" width="3.98" height="19.3" fill="#2d477c"/>
<rect x="393.01" y="649.80" width="3.98" height="19.3" fill="#2d477c"/>
<rect x="398.29" y="649.80" width="3.98" height="19.3" fill="#2d477c"/>
<rect x="403.57" y="649.80" width="3.98" height="19.3" fill="#2d477c"/>
<rect x="408.85" y="649.80" width="3.98" height="19.3" fill="#2d477c"/>
<rect x="414.13" y="649.80" width="3.98" height="19.3" fill="#2d477c"/>
<rect x="419.41" y="649.80" width="3.98" height="19.3" fill="#2d477c"/>
<rect x="424.69" y="649.80" width="3.98" height="19.3" fill="#2d477c"/>
<rect x="429.97" y="649.80" width="3.98" height="19.3" fill="#2d477c"/>
<rect x="435.25" y="649.80" width="3.98" height="19.3" fill="#2d477c"/>
<rect x="440.53" y="649.80" width="3.98" height="19.3" fill="#2d477c"/>
<rect x="445.81" y="649.80" width="3.98" height="19.3" fill="#2d477c"/>
<rect x="451.09" y="649.80" width="3.98" height="19.3" fill="#2d477c"/>
<rect x="456.37" y="649.80" width="3.98" height="19.3" fill="#2d477c"/>
<rect x="461.65" y="649.80" width="3.98" height="19.3" fill="#2d477c"/>
<rect x="466.93" y="649.80" width="3.98" height="19.3" fill="#2d477c"/>
<rect x="472.21" y="649.80" width="3.98" height="19.3" fill="#2d477c"/>
<rect x="477.49" y="649.80" width="3.98" height="19.3" fill="#2d477c"/>
<text x="61.7" y="663.3" font-size="8.8" text-anchor="end" font-weight="normal" fill="#333" stroke="#333" stroke-width="0.15" >Spleen</text>
<text x="484.9" y="662.0999999999999" font-size="8.3" text-anchor="start" font-weight="normal" fill="#333" stroke="#333" stroke-width="0.15" >n = 33</text>
<rect x="65.65" y="670.70" width="3.98" height="19.3" fill="#a5093a"/>
<rect x="70.93" y="670.70" width="3.98" height="19.3" fill="#a5093a"/>
<rect x="76.21" y="670.70" width="3.98" height="19.3" fill="#a5093a"/>
<rect x="81.49" y="670.70" width="3.98" height="19.3" fill="#a5093a"/>
<rect x="86.77" y="670.70" width="3.98" height="19.3" fill="#a5093a"/>
<rect x="92.05" y="670.70" width="3.98" height="19.3" fill="#a5093a"/>
<rect x="97.33" y="670.70" width="3.98" height="19.3" fill="#a5093a"/>
<rect x="102.61" y="670.70" width="3.98" height="19.3" fill="#a5093a"/>
<rect x="107.89" y="670.70" width="3.98" height="19.3" fill="#a5093a"/>
<rect x="113.17" y="670.70" width="3.98" height="19.3" fill="#a5093a"/>
<rect x="118.45" y="670.70" width="3.98" height="19.3" fill="#a5093a"/>
<rect x="123.73" y="670.70" width="3.98" height="19.3" fill="#a5093a"/>
<rect x="129.01" y="670.70" width="3.98" height="19.3" fill="#a5093a"/>
<rect x="134.29" y="670.70" width="3.98" height="19.3" fill="#a5093a"/>
<rect x="139.57" y="670.70" width="3.98" height="19.3" fill="#2d477c"/>
<rect x="144.85" y="670.70" width="3.98" height="19.3" fill="#2d477c"/>
<rect x="150.13" y="670.70" width="3.98" height="19.3" fill="#2d477c"/>
<rect x="155.41" y="670.70" width="3.98" height="19.3" fill="#2d477c"/>
<rect x="160.69" y="670.70" width="3.98" height="19.3" fill="#2d477c"/>
<rect x="165.97" y="670.70" width="3.98" height="19.3" fill="#2d477c"/>
<rect x="171.25" y="670.70" width="3.98" height="19.3" fill="#2d477c"/>
<rect x="176.53" y="670.70" width="3.98" height="19.3" fill="#2d477c"/>
<rect x="181.81" y="670.70" width="3.98" height="19.3" fill="#2d477c"/>
<rect x="187.09" y="670.70" width="3.98" height="19.3" fill="#2d477c"/>
<rect x="192.37" y="670.70" width="3.98" height="19.3" fill="#2d477c"/>
<rect x="197.65" y="670.70" width="3.98" height="19.3" fill="#2d477c"/>
<rect x="202.93" y="670.70" width="3.98" height="19.3" fill="#2d477c"/>
<rect x="208.21" y="670.70" width="3.98" height="19.3" fill="#2d477c"/>
<rect x="213.49" y="670.70" width="3.98" height="19.3" fill="#2d477c"/>
<rect x="218.77" y="670.70" width="3.98" height="19.3" fill="#2d477c"/>
<rect x="224.05" y="670.70" width="3.98" height="19.3" fill="#2d477c"/>
<rect x="229.33" y="670.70" width="3.98" height="19.3" fill="#2d477c"/>
<rect x="234.61" y="670.70" width="3.98" height="19.3" fill="#2d477c"/>
<rect x="239.89" y="670.70" width="3.98" height="19.3" fill="#a5093a"/>
<rect x="245.17" y="670.70" width="3.98" height="19.3" fill="#a5093a"/>
<rect x="250.45" y="670.70" width="3.98" height="19.3" fill="#a5093a"/>
<rect x="255.73" y="670.70" width="3.98" height="19.3" fill="#a5093a"/>
<rect x="261.01" y="670.70" width="3.98" height="19.3" fill="#a5093a"/>
<rect x="266.29" y="670.70" width="3.98" height="19.3" fill="#a5093a"/>
<rect x="271.57" y="670.70" width="3.98" height="19.3" fill="#a5093a"/>
<rect x="276.85" y="670.70" width="3.98" height="19.3" fill="#a5093a"/>
<rect x="282.13" y="670.70" width="3.98" height="19.3" fill="#a5093a"/>
<rect x="287.41" y="670.70" width="3.98" height="19.3" fill="#a5093a"/>
<rect x="292.69" y="670.70" width="3.98" height="19.3" fill="#a5093a"/>
<rect x="297.97" y="670.70" width="3.98" height="19.3" fill="#a5093a"/>
<rect x="303.25" y="670.70" width="3.98" height="19.3" fill="#a5093a"/>
<rect x="308.53" y="670.70" width="3.98" height="19.3" fill="#2d477c"/>
<rect x="313.81" y="670.70" width="3.98" height="19.3" fill="#2d477c"/>
<rect x="319.09" y="670.70" width="3.98" height="19.3" fill="#2d477c"/>
<rect x="324.37" y="670.70" width="3.98" height="19.3" fill="#2d477c"/>
<rect x="329.65" y="670.70" width="3.98" height="19.3" fill="#2d477c"/>
<rect x="334.93" y="670.70" width="3.98" height="19.3" fill="#2d477c"/>
<rect x="340.21" y="670.70" width="3.98" height="19.3" fill="#2d477c"/>
<rect x="345.49" y="670.70" width="3.98" height="19.3" fill="#2d477c"/>
<rect x="350.77" y="670.70" width="3.98" height="19.3" fill="#2d477c"/>
<rect x="356.05" y="670.70" width="3.98" height="19.3" fill="#2d477c"/>
<rect x="361.33" y="670.70" width="3.98" height="19.3" fill="#2d477c"/>
<rect x="366.61" y="670.70" width="3.98" height="19.3" fill="#2d477c"/>
<rect x="371.89" y="670.70" width="3.98" height="19.3" fill="#2d477c"/>
<rect x="377.17" y="670.70" width="3.98" height="19.3" fill="#2d477c"/>
<rect x="382.45" y="670.70" width="3.98" height="19.3" fill="#2d477c"/>
<rect x="387.73" y="670.70" width="3.98" height="19.3" fill="#2d477c"/>
<rect x="393.01" y="670.70" width="3.98" height="19.3" fill="#2d477c"/>
<rect x="398.29" y="670.70" width="3.98" height="19.3" fill="#2d477c"/>
<rect x="403.57" y="670.70" width="3.98" height="19.3" fill="#2d477c"/>
<rect x="408.85" y="670.70" width="3.98" height="19.3" fill="#2d477c"/>
<rect x="414.13" y="670.70" width="3.98" height="19.3" fill="#2d477c"/>
<rect x="419.41" y="670.70" width="3.98" height="19.3" fill="#2d477c"/>
<rect x="424.69" y="670.70" width="3.98" height="19.3" fill="#2d477c"/>
<rect x="429.97" y="670.70" width="3.98" height="19.3" fill="#2d477c"/>
<rect x="435.25" y="670.70" width="3.98" height="19.3" fill="#2d477c"/>
<rect x="440.53" y="670.70" width="3.98" height="19.3" fill="#2d477c"/>
<rect x="445.81" y="670.70" width="3.98" height="19.3" fill="#2d477c"/>
<rect x="451.09" y="670.70" width="3.98" height="19.3" fill="#2d477c"/>
<rect x="456.37" y="670.70" width="3.98" height="19.3" fill="#2d477c"/>
<rect x="461.65" y="670.70" width="3.98" height="19.3" fill="#2d477c"/>
<rect x="466.93" y="670.70" width="3.98" height="19.3" fill="#2d477c"/>
<rect x="472.21" y="670.70" width="3.98" height="19.3" fill="#2d477c"/>
<rect x="477.49" y="670.70" width="3.98" height="19.3" fill="#2d477c"/>
<text x="61.7" y="684.1999999999999" font-size="8.8" text-anchor="end" font-weight="normal" fill="#333" stroke="#333" stroke-width="0.15" >LN</text>
<text x="484.9" y="682.9999999999999" font-size="8.3" text-anchor="start" font-weight="normal" fill="#333" stroke="#333" stroke-width="0.15" >n = 27</text>
<rect x="65.65" y="691.60" width="3.98" height="19.3" fill="#a5093a"/>
<rect x="70.93" y="691.60" width="3.98" height="19.3" fill="#a5093a"/>
<rect x="76.21" y="691.60" width="3.98" height="19.3" fill="#a5093a"/>
<rect x="81.49" y="691.60" width="3.98" height="19.3" fill="#a5093a"/>
<rect x="86.77" y="691.60" width="3.98" height="19.3" fill="#a5093a"/>
<rect x="92.05" y="691.60" width="3.98" height="19.3" fill="#a5093a"/>
<rect x="97.33" y="691.60" width="3.98" height="19.3" fill="#2d477c"/>
<rect x="102.61" y="691.60" width="3.98" height="19.3" fill="#2d477c"/>
<rect x="107.89" y="691.60" width="3.98" height="19.3" fill="#2d477c"/>
<rect x="113.17" y="691.60" width="3.98" height="19.3" fill="#2d477c"/>
<rect x="118.45" y="691.60" width="3.98" height="19.3" fill="#2d477c"/>
<rect x="123.73" y="691.60" width="3.98" height="19.3" fill="#2d477c"/>
<rect x="129.01" y="691.60" width="3.98" height="19.3" fill="#2d477c"/>
<rect x="134.29" y="691.60" width="3.98" height="19.3" fill="#2d477c"/>
<rect x="139.57" y="691.60" width="3.98" height="19.3" fill="#a5093a"/>
<rect x="144.85" y="691.60" width="3.98" height="19.3" fill="#a5093a"/>
<rect x="150.13" y="691.60" width="3.98" height="19.3" fill="#a5093a"/>
<rect x="155.41" y="691.60" width="3.98" height="19.3" fill="#a5093a"/>
<rect x="160.69" y="691.60" width="3.98" height="19.3" fill="#a5093a"/>
<rect x="165.97" y="691.60" width="3.98" height="19.3" fill="#a5093a"/>
<rect x="171.25" y="691.60" width="3.98" height="19.3" fill="#2d477c"/>
<rect x="176.53" y="691.60" width="3.98" height="19.3" fill="#2d477c"/>
<rect x="181.81" y="691.60" width="3.98" height="19.3" fill="#2d477c"/>
<rect x="187.09" y="691.60" width="3.98" height="19.3" fill="#2d477c"/>
<rect x="192.37" y="691.60" width="3.98" height="19.3" fill="#2d477c"/>
<rect x="197.65" y="691.60" width="3.98" height="19.3" fill="#2d477c"/>
<rect x="202.93" y="691.60" width="3.98" height="19.3" fill="#2d477c"/>
<rect x="208.21" y="691.60" width="3.98" height="19.3" fill="#2d477c"/>
<rect x="213.49" y="691.60" width="3.98" height="19.3" fill="#2d477c"/>
<rect x="218.77" y="691.60" width="3.98" height="19.3" fill="#2d477c"/>
<rect x="224.05" y="691.60" width="3.98" height="19.3" fill="#2d477c"/>
<rect x="229.33" y="691.60" width="3.98" height="19.3" fill="#2d477c"/>
<rect x="234.61" y="691.60" width="3.98" height="19.3" fill="#2d477c"/>
<rect x="239.89" y="691.60" width="3.98" height="19.3" fill="#a5093a"/>
<rect x="245.17" y="691.60" width="3.98" height="19.3" fill="#a5093a"/>
<rect x="250.45" y="691.60" width="3.98" height="19.3" fill="#a5093a"/>
<rect x="255.73" y="691.60" width="3.98" height="19.3" fill="#a5093a"/>
<rect x="261.01" y="691.60" width="3.98" height="19.3" fill="#a5093a"/>
<rect x="266.29" y="691.60" width="3.98" height="19.3" fill="#2d477c"/>
<rect x="271.57" y="691.60" width="3.98" height="19.3" fill="#2d477c"/>
<rect x="276.85" y="691.60" width="3.98" height="19.3" fill="#2d477c"/>
<rect x="282.13" y="691.60" width="3.98" height="19.3" fill="#2d477c"/>
<rect x="287.41" y="691.60" width="3.98" height="19.3" fill="#2d477c"/>
<rect x="292.69" y="691.60" width="3.98" height="19.3" fill="#2d477c"/>
<rect x="297.97" y="691.60" width="3.98" height="19.3" fill="#2d477c"/>
<rect x="303.25" y="691.60" width="3.98" height="19.3" fill="#2d477c"/>
<rect x="308.53" y="691.60" width="3.98" height="19.3" fill="#a5093a"/>
<rect x="313.81" y="691.60" width="3.98" height="19.3" fill="#a5093a"/>
<rect x="319.09" y="691.60" width="3.98" height="19.3" fill="#a5093a"/>
<rect x="324.37" y="691.60" width="3.98" height="19.3" fill="#a5093a"/>
<rect x="329.65" y="691.60" width="3.98" height="19.3" fill="#a5093a"/>
<rect x="334.93" y="691.60" width="3.98" height="19.3" fill="#a5093a"/>
<rect x="340.21" y="691.60" width="3.98" height="19.3" fill="#2d477c"/>
<rect x="345.49" y="691.60" width="3.98" height="19.3" fill="#2d477c"/>
<rect x="350.77" y="691.60" width="3.98" height="19.3" fill="#2d477c"/>
<rect x="356.05" y="691.60" width="3.98" height="19.3" fill="#2d477c"/>
<rect x="361.33" y="691.60" width="3.98" height="19.3" fill="#2d477c"/>
<rect x="366.61" y="691.60" width="3.98" height="19.3" fill="#2d477c"/>
<rect x="371.89" y="691.60" width="3.98" height="19.3" fill="#2d477c"/>
<rect x="377.17" y="691.60" width="3.98" height="19.3" fill="#2d477c"/>
<rect x="382.45" y="691.60" width="3.98" height="19.3" fill="#2d477c"/>
<rect x="387.73" y="691.60" width="3.98" height="19.3" fill="#2d477c"/>
<rect x="393.01" y="691.60" width="3.98" height="19.3" fill="#2d477c"/>
<rect x="398.29" y="691.60" width="3.98" height="19.3" fill="#2d477c"/>
<rect x="403.57" y="691.60" width="3.98" height="19.3" fill="#2d477c"/>
<rect x="408.85" y="691.60" width="3.98" height="19.3" fill="#2d477c"/>
<rect x="414.13" y="691.60" width="3.98" height="19.3" fill="#2d477c"/>
<rect x="419.41" y="691.60" width="3.98" height="19.3" fill="#2d477c"/>
<rect x="424.69" y="691.60" width="3.98" height="19.3" fill="#2d477c"/>
<rect x="429.97" y="691.60" width="3.98" height="19.3" fill="#2d477c"/>
<rect x="435.25" y="691.60" width="3.98" height="19.3" fill="#2d477c"/>
<rect x="440.53" y="691.60" width="3.98" height="19.3" fill="#2d477c"/>
<rect x="445.81" y="691.60" width="3.98" height="19.3" fill="#2d477c"/>
<rect x="451.09" y="691.60" width="3.98" height="19.3" fill="#2d477c"/>
<rect x="456.37" y="691.60" width="3.98" height="19.3" fill="#2d477c"/>
<rect x="461.65" y="691.60" width="3.98" height="19.3" fill="#2d477c"/>
<rect x="466.93" y="691.60" width="3.98" height="19.3" fill="#2d477c"/>
<rect x="472.21" y="691.60" width="3.98" height="19.3" fill="#2d477c"/>
<rect x="477.49" y="691.60" width="3.98" height="19.3" fill="#2d477c"/>
<text x="61.7" y="705.0999999999999" font-size="8.8" text-anchor="end" font-weight="normal" fill="#333" stroke="#333" stroke-width="0.15" >ALC</text>
<text x="484.9" y="703.8999999999999" font-size="8.3" text-anchor="start" font-weight="normal" fill="#333" stroke="#333" stroke-width="0.15" >n = 23</text>
<rect x="65.65" y="712.50" width="3.98" height="19.3" fill="#a5093a"/>
<rect x="70.93" y="712.50" width="3.98" height="19.3" fill="#a5093a"/>
<rect x="76.21" y="712.50" width="3.98" height="19.3" fill="#a5093a"/>
<rect x="81.49" y="712.50" width="3.98" height="19.3" fill="#2d477c"/>
<rect x="86.77" y="712.50" width="3.98" height="19.3" fill="#2d477c"/>
<rect x="92.05" y="712.50" width="3.98" height="19.3" fill="#2d477c"/>
<rect x="97.33" y="712.50" width="3.98" height="19.3" fill="#a5093a"/>
<rect x="102.61" y="712.50" width="3.98" height="19.3" fill="#2d477c"/>
<rect x="107.89" y="712.50" width="3.98" height="19.3" fill="#2d477c"/>
<rect x="113.17" y="712.50" width="3.98" height="19.3" fill="#2d477c"/>
<rect x="118.45" y="712.50" width="3.98" height="19.3" fill="#2d477c"/>
<rect x="123.73" y="712.50" width="3.98" height="19.3" fill="#2d477c"/>
<rect x="129.01" y="712.50" width="3.98" height="19.3" fill="#2d477c"/>
<rect x="134.29" y="712.50" width="3.98" height="19.3" fill="#2d477c"/>
<rect x="139.57" y="712.50" width="3.98" height="19.3" fill="#a5093a"/>
<rect x="144.85" y="712.50" width="3.98" height="19.3" fill="#2d477c"/>
<rect x="150.13" y="712.50" width="3.98" height="19.3" fill="#2d477c"/>
<rect x="155.41" y="712.50" width="3.98" height="19.3" fill="#2d477c"/>
<rect x="160.69" y="712.50" width="3.98" height="19.3" fill="#2d477c"/>
<rect x="165.97" y="712.50" width="3.98" height="19.3" fill="#2d477c"/>
<rect x="171.25" y="712.50" width="3.98" height="19.3" fill="#2d477c"/>
<rect x="176.53" y="712.50" width="3.98" height="19.3" fill="#2d477c"/>
<rect x="181.81" y="712.50" width="3.98" height="19.3" fill="#2d477c"/>
<rect x="187.09" y="712.50" width="3.98" height="19.3" fill="#2d477c"/>
<rect x="192.37" y="712.50" width="3.98" height="19.3" fill="#2d477c"/>
<rect x="197.65" y="712.50" width="3.98" height="19.3" fill="#2d477c"/>
<rect x="202.93" y="712.50" width="3.98" height="19.3" fill="#2d477c"/>
<rect x="208.21" y="712.50" width="3.98" height="19.3" fill="#2d477c"/>
<rect x="213.49" y="712.50" width="3.98" height="19.3" fill="#2d477c"/>
<rect x="218.77" y="712.50" width="3.98" height="19.3" fill="#2d477c"/>
<rect x="224.05" y="712.50" width="3.98" height="19.3" fill="#2d477c"/>
<rect x="229.33" y="712.50" width="3.98" height="19.3" fill="#2d477c"/>
<rect x="234.61" y="712.50" width="3.98" height="19.3" fill="#2d477c"/>
<rect x="239.89" y="712.50" width="3.98" height="19.3" fill="#2d477c"/>
<rect x="245.17" y="712.50" width="3.98" height="19.3" fill="#2d477c"/>
<rect x="250.45" y="712.50" width="3.98" height="19.3" fill="#2d477c"/>
<rect x="255.73" y="712.50" width="3.98" height="19.3" fill="#2d477c"/>
<rect x="261.01" y="712.50" width="3.98" height="19.3" fill="#2d477c"/>
<rect x="266.29" y="712.50" width="3.98" height="19.3" fill="#a5093a"/>
<rect x="271.57" y="712.50" width="3.98" height="19.3" fill="#a5093a"/>
<rect x="276.85" y="712.50" width="3.98" height="19.3" fill="#a5093a"/>
<rect x="282.13" y="712.50" width="3.98" height="19.3" fill="#2d477c"/>
<rect x="287.41" y="712.50" width="3.98" height="19.3" fill="#2d477c"/>
<rect x="292.69" y="712.50" width="3.98" height="19.3" fill="#2d477c"/>
<rect x="297.97" y="712.50" width="3.98" height="19.3" fill="#2d477c"/>
<rect x="303.25" y="712.50" width="3.98" height="19.3" fill="#2d477c"/>
<rect x="308.53" y="712.50" width="3.98" height="19.3" fill="#a5093a"/>
<rect x="313.81" y="712.50" width="3.98" height="19.3" fill="#a5093a"/>
<rect x="319.09" y="712.50" width="3.98" height="19.3" fill="#a5093a"/>
<rect x="324.37" y="712.50" width="3.98" height="19.3" fill="#2d477c"/>
<rect x="329.65" y="712.50" width="3.98" height="19.3" fill="#2d477c"/>
<rect x="334.93" y="712.50" width="3.98" height="19.3" fill="#2d477c"/>
<rect x="340.21" y="712.50" width="3.98" height="19.3" fill="#a5093a"/>
<rect x="345.49" y="712.50" width="3.98" height="19.3" fill="#a5093a"/>
<rect x="350.77" y="712.50" width="3.98" height="19.3" fill="#a5093a"/>
<rect x="356.05" y="712.50" width="3.98" height="19.3" fill="#a5093a"/>
<rect x="361.33" y="712.50" width="3.98" height="19.3" fill="#2d477c"/>
<rect x="366.61" y="712.50" width="3.98" height="19.3" fill="#2d477c"/>
<rect x="371.89" y="712.50" width="3.98" height="19.3" fill="#2d477c"/>
<rect x="377.17" y="712.50" width="3.98" height="19.3" fill="#2d477c"/>
<rect x="382.45" y="712.50" width="3.98" height="19.3" fill="#2d477c"/>
<rect x="387.73" y="712.50" width="3.98" height="19.3" fill="#2d477c"/>
<rect x="393.01" y="712.50" width="3.98" height="19.3" fill="#2d477c"/>
<rect x="398.29" y="712.50" width="3.98" height="19.3" fill="#2d477c"/>
<rect x="403.57" y="712.50" width="3.98" height="19.3" fill="#2d477c"/>
<rect x="408.85" y="712.50" width="3.98" height="19.3" fill="#2d477c"/>
<rect x="414.13" y="712.50" width="3.98" height="19.3" fill="#2d477c"/>
<rect x="419.41" y="712.50" width="3.98" height="19.3" fill="#2d477c"/>
<rect x="424.69" y="712.50" width="3.98" height="19.3" fill="#2d477c"/>
<rect x="429.97" y="712.50" width="3.98" height="19.3" fill="#2d477c"/>
<rect x="435.25" y="712.50" width="3.98" height="19.3" fill="#2d477c"/>
<rect x="440.53" y="712.50" width="3.98" height="19.3" fill="#2d477c"/>
<rect x="445.81" y="712.50" width="3.98" height="19.3" fill="#2d477c"/>
<rect x="451.09" y="712.50" width="3.98" height="19.3" fill="#2d477c"/>
<rect x="456.37" y="712.50" width="3.98" height="19.3" fill="#2d477c"/>
<rect x="461.65" y="712.50" width="3.98" height="19.3" fill="#2d477c"/>
<rect x="466.93" y="712.50" width="3.98" height="19.3" fill="#2d477c"/>
<rect x="472.21" y="712.50" width="3.98" height="19.3" fill="#2d477c"/>
<rect x="477.49" y="712.50" width="3.98" height="19.3" fill="#2d477c"/>
<text x="61.7" y="726.0" font-size="8.8" text-anchor="end" font-weight="normal" fill="#333" stroke="#333" stroke-width="0.15" >Marrow</text>
<text x="484.9" y="724.8" font-size="8.3" text-anchor="start" font-weight="normal" fill="#333" stroke="#333" stroke-width="0.15" >n = 15</text>
<rect x="65.65" y="733.40" width="3.98" height="19.3" fill="#a5093a"/>
<rect x="70.93" y="733.40" width="3.98" height="19.3" fill="#a5093a"/>
<rect x="76.21" y="733.40" width="3.98" height="19.3" fill="#2d477c"/>
<rect x="81.49" y="733.40" width="3.98" height="19.3" fill="#a5093a"/>
<rect x="86.77" y="733.40" width="3.98" height="19.3" fill="#a5093a"/>
<rect x="92.05" y="733.40" width="3.98" height="19.3" fill="#2d477c"/>
<rect x="97.33" y="733.40" width="3.98" height="19.3" fill="#a5093a"/>
<rect x="102.61" y="733.40" width="3.98" height="19.3" fill="#a5093a"/>
<rect x="107.89" y="733.40" width="3.98" height="19.3" fill="#2d477c"/>
<rect x="113.17" y="733.40" width="3.98" height="19.3" fill="#2d477c"/>
<rect x="118.45" y="733.40" width="3.98" height="19.3" fill="#2d477c"/>
<rect x="123.73" y="733.40" width="3.98" height="19.3" fill="#2d477c"/>
<rect x="129.01" y="733.40" width="3.98" height="19.3" fill="#2d477c"/>
<rect x="134.29" y="733.40" width="3.98" height="19.3" fill="#2d477c"/>
<rect x="139.57" y="733.40" width="3.98" height="19.3" fill="#2d477c"/>
<rect x="144.85" y="733.40" width="3.98" height="19.3" fill="#a5093a"/>
<rect x="150.13" y="733.40" width="3.98" height="19.3" fill="#2d477c"/>
<rect x="155.41" y="733.40" width="3.98" height="19.3" fill="#2d477c"/>
<rect x="160.69" y="733.40" width="3.98" height="19.3" fill="#2d477c"/>
<rect x="165.97" y="733.40" width="3.98" height="19.3" fill="#2d477c"/>
<rect x="171.25" y="733.40" width="3.98" height="19.3" fill="#a5093a"/>
<rect x="176.53" y="733.40" width="3.98" height="19.3" fill="#a5093a"/>
<rect x="181.81" y="733.40" width="3.98" height="19.3" fill="#a5093a"/>
<rect x="187.09" y="733.40" width="3.98" height="19.3" fill="#2d477c"/>
<rect x="192.37" y="733.40" width="3.98" height="19.3" fill="#2d477c"/>
<rect x="197.65" y="733.40" width="3.98" height="19.3" fill="#2d477c"/>
<rect x="202.93" y="733.40" width="3.98" height="19.3" fill="#2d477c"/>
<rect x="208.21" y="733.40" width="3.98" height="19.3" fill="#2d477c"/>
<rect x="213.49" y="733.40" width="3.98" height="19.3" fill="#2d477c"/>
<rect x="218.77" y="733.40" width="3.98" height="19.3" fill="#2d477c"/>
<rect x="224.05" y="733.40" width="3.98" height="19.3" fill="#2d477c"/>
<rect x="229.33" y="733.40" width="3.98" height="19.3" fill="#2d477c"/>
<rect x="234.61" y="733.40" width="3.98" height="19.3" fill="#2d477c"/>
<rect x="239.89" y="733.40" width="3.98" height="19.3" fill="#2d477c"/>
<rect x="245.17" y="733.40" width="3.98" height="19.3" fill="#2d477c"/>
<rect x="250.45" y="733.40" width="3.98" height="19.3" fill="#2d477c"/>
<rect x="255.73" y="733.40" width="3.98" height="19.3" fill="#2d477c"/>
<rect x="261.01" y="733.40" width="3.98" height="19.3" fill="#2d477c"/>
<rect x="266.29" y="733.40" width="3.98" height="19.3" fill="#a5093a"/>
<rect x="271.57" y="733.40" width="3.98" height="19.3" fill="#2d477c"/>
<rect x="276.85" y="733.40" width="3.98" height="19.3" fill="#2d477c"/>
<rect x="282.13" y="733.40" width="3.98" height="19.3" fill="#2d477c"/>
<rect x="287.41" y="733.40" width="3.98" height="19.3" fill="#2d477c"/>
<rect x="292.69" y="733.40" width="3.98" height="19.3" fill="#2d477c"/>
<rect x="297.97" y="733.40" width="3.98" height="19.3" fill="#2d477c"/>
<rect x="303.25" y="733.40" width="3.98" height="19.3" fill="#2d477c"/>
<rect x="308.53" y="733.40" width="3.98" height="19.3" fill="#2d477c"/>
<rect x="313.81" y="733.40" width="3.98" height="19.3" fill="#2d477c"/>
<rect x="319.09" y="733.40" width="3.98" height="19.3" fill="#2d477c"/>
<rect x="324.37" y="733.40" width="3.98" height="19.3" fill="#a5093a"/>
<rect x="329.65" y="733.40" width="3.98" height="19.3" fill="#2d477c"/>
<rect x="334.93" y="733.40" width="3.98" height="19.3" fill="#2d477c"/>
<rect x="340.21" y="733.40" width="3.98" height="19.3" fill="#a5093a"/>
<rect x="345.49" y="733.40" width="3.98" height="19.3" fill="#2d477c"/>
<rect x="350.77" y="733.40" width="3.98" height="19.3" fill="#2d477c"/>
<rect x="356.05" y="733.40" width="3.98" height="19.3" fill="#2d477c"/>
<rect x="361.33" y="733.40" width="3.98" height="19.3" fill="#2d477c"/>
<rect x="366.61" y="733.40" width="3.98" height="19.3" fill="#2d477c"/>
<rect x="371.89" y="733.40" width="3.98" height="19.3" fill="#2d477c"/>
<rect x="377.17" y="733.40" width="3.98" height="19.3" fill="#2d477c"/>
<rect x="382.45" y="733.40" width="3.98" height="19.3" fill="#2d477c"/>
<rect x="387.73" y="733.40" width="3.98" height="19.3" fill="#2d477c"/>
<rect x="393.01" y="733.40" width="3.98" height="19.3" fill="#2d477c"/>
<rect x="398.29" y="733.40" width="3.98" height="19.3" fill="#2d477c"/>
<rect x="403.57" y="733.40" width="3.98" height="19.3" fill="#2d477c"/>
<rect x="408.85" y="733.40" width="3.98" height="19.3" fill="#2d477c"/>
<rect x="414.13" y="733.40" width="3.98" height="19.3" fill="#2d477c"/>
<rect x="419.41" y="733.40" width="3.98" height="19.3" fill="#2d477c"/>
<rect x="424.69" y="733.40" width="3.98" height="19.3" fill="#2d477c"/>
<rect x="429.97" y="733.40" width="3.98" height="19.3" fill="#2d477c"/>
<rect x="435.25" y="733.40" width="3.98" height="19.3" fill="#2d477c"/>
<rect x="440.53" y="733.40" width="3.98" height="19.3" fill="#2d477c"/>
<rect x="445.81" y="733.40" width="3.98" height="19.3" fill="#2d477c"/>
<rect x="451.09" y="733.40" width="3.98" height="19.3" fill="#2d477c"/>
<rect x="456.37" y="733.40" width="3.98" height="19.3" fill="#2d477c"/>
<rect x="461.65" y="733.40" width="3.98" height="19.3" fill="#2d477c"/>
<rect x="466.93" y="733.40" width="3.98" height="19.3" fill="#2d477c"/>
<rect x="472.21" y="733.40" width="3.98" height="19.3" fill="#2d477c"/>
<rect x="477.49" y="733.40" width="3.98" height="19.3" fill="#2d477c"/>
<text x="61.7" y="746.9" font-size="8.8" text-anchor="end" font-weight="normal" fill="#333" stroke="#333" stroke-width="0.15" >Heme</text>
<text x="484.9" y="745.6999999999999" font-size="8.3" text-anchor="start" font-weight="normal" fill="#333" stroke="#333" stroke-width="0.15" >n = 13</text>
<rect x="0.5" y="0.5" width="519" height="760" fill="none" stroke="#000" stroke-width="1.2"/>
</svg>
</body></html>
